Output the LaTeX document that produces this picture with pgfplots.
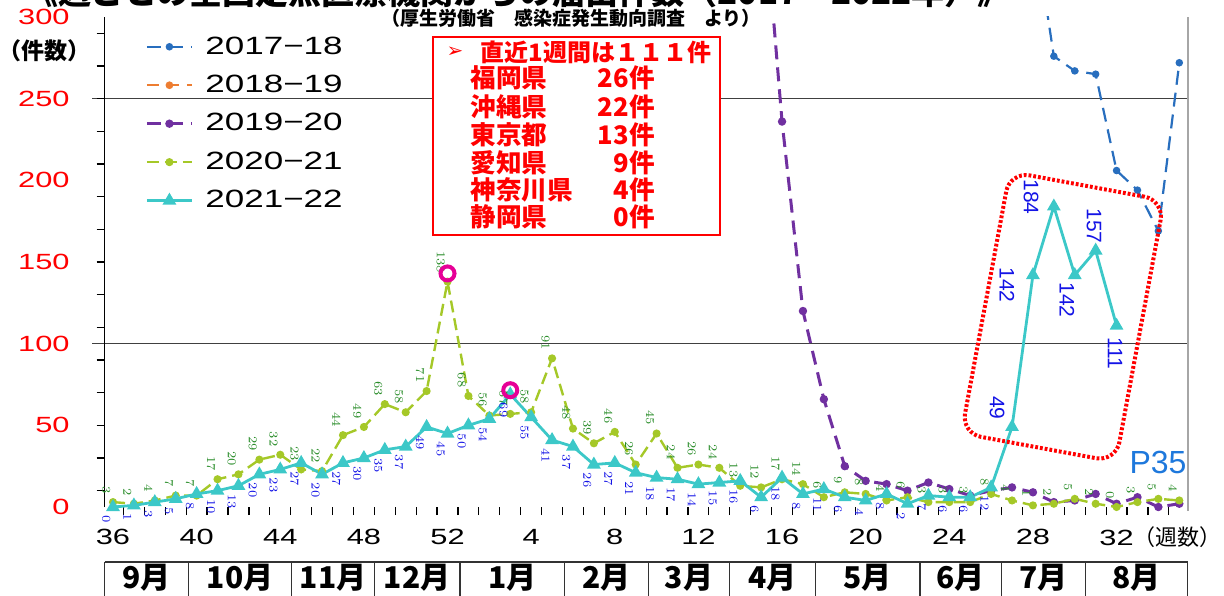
\documentclass[border=0pt]{standalone}
\usepackage{fontspec}
\usepackage{pgfplots}
\pgfplotsset{compat=1.18}
\usepackage{pgfplotstable}
\setmainfont{Liberation Sans}
\newfontfamily\numfont[FakeStretch=1.4]{Liberation Sans}
\newfontfamily\jp{Noto Sans CJK JP}
\newfontfamily\dejavu{DejaVu Sans}
\definecolor{cA}{RGB}{40,110,190}
\definecolor{cB}{RGB}{237,125,49}
\definecolor{cC}{RGB}{112,48,160}
\definecolor{cD}{RGB}{165,200,40}
\definecolor{cE}{RGB}{60,200,200}
\definecolor{labgreen}{RGB}{40,140,40}
\definecolor{labblue}{RGB}{20,20,230}
\definecolor{pinkc}{RGB}{230,0,150}
\definecolor{pblue}{RGB}{30,120,220}

% x = week index (0 = week 36, 16 = week 52, 17 = week 1, ... 51 = week 35)
\pgfplotstableread{
x y
44 360
45 276
46 267
47 265
48 206
49 194
50 169
51 272
}\tA
\pgfplotstableread{
x y
31 390
32 236
33 120
34 66
35 25
36 16
37 14
38 10
39 15
40 11
41 7
42 10
43 12
44 9
45 3
46 4
47 8
48 2
49 6
50 0
51 2
}\tC
\pgfplotstableread{
x y
0 3
1 2
2 4
3 7
4 7
5 17
6 20
7 29
8 32
9 23
10 22
11 44
12 49
13 63
14 58
15 71
16 138
17 68
18 56
19 57
20 58
21 91
22 48
23 39
24 46
25 26
26 45
27 24
28 26
29 24
30 13
31 12
32 17
33 14
34 6
35 9
36 8
37 4
38 6
39 3
40 3
41 3
42 8
43 4
44 1
45 2
46 5
47 2
48 0
49 3
50 5
51 4
}\tD
\pgfplotstableread{
x y
0 0
1 1
2 3
3 5
4 8
5 10
6 13
7 20
8 23
9 27
10 20
11 27
12 30
13 35
14 37
15 49
16 45
17 50
18 54
19 69
20 55
21 41
22 37
23 26
24 27
25 21
26 18
27 17
28 14
29 15
30 16
31 6
32 18
33 8
34 11
35 6
36 4
37 8
38 2
39 7
40 6
41 6
42 12
43 49
44 142
45 184
46 142
47 157
48 111
}\tE

\begin{document}
\begin{tikzpicture}
% horizontal reference lines
\draw[black!75, line width=0.6pt] (46pt,125.67pt) -- (594pt,125.67pt);
\draw[black!75, line width=0.6pt] (46pt,248.17pt) -- (594pt,248.17pt);
\begin{axis}[
  scale only axis, width=541.5pt, height=245pt,
  at={(52.32pt,44pt)}, anchor=south west,
  xmin=-0.4, xmax=51.4, ymin=0, ymax=300,
  axis x line=bottom, axis y line=left, axis line style={-},
  x axis line style={draw=none},
  y axis line style={black, line width=0.75pt},
  tick align=outside,
  major tick length=0pt, minor tick length=4pt,
  tick style={black, line width=0.6pt},
  xtick={0,4,...,48},
  xticklabels={36,40,44,48,52,4,8,12,16,20,24,28,{32\rlap{\jp\fontsize{11}{11}\selectfont （週数）}}},
  minor xtick={0.5,1.5,...,50.5},
  ytick={0,50,...,300},
  yticklabels={0,50,100,150,200,250,300},
  minor ytick={10,30,...,290},
  xticklabel style={font=\numfont\fontsize{11}{11}\selectfont, anchor=center, yshift=-15pt},
  yticklabel style={font=\numfont\fontsize{11}{11}\selectfont, text=red, anchor=east, xshift=-14pt},
  legend style={at={(0.0373,0.965)}, anchor=north west, draw=none, fill=none,
    font=\numfont\fontsize{12.5}{12.5}\selectfont, row sep=7pt, column sep=5pt,
    inner sep=0pt, nodes={inner sep=1pt}},
  legend cell align=left,
  legend image code/.code={\draw[mark repeat=2,mark phase=2,#1] plot coordinates {(0pt,0pt) (11.25pt,0pt) (22.5pt,0pt)};},
]
\addplot[cA, line width=1.1pt, dash pattern=on 7pt off 4pt, mark=*, mark size=1.3pt, mark options={solid}] table {\tA};
\addlegendentry{2017−18}
\addlegendimage{cB, line width=1pt, dash pattern=on 6pt off 4pt, mark=*, mark size=1.4pt, mark options={solid}}
\addlegendentry{2018−19}
\addplot[cC, line width=1.5pt, dash pattern=on 7pt off 4pt, mark=*, mark size=1.3pt, mark options={solid}] table {\tC};
\addlegendentry{2019−20}
\addplot[cD, line width=1.2pt, dash pattern=on 6pt off 3pt, mark=*, mark size=1.4pt, mark options={solid}] table {\tD};
\addlegendentry{2020−21}
\addplot[cE, line width=1.4pt, mark=triangle*, mark size=2.6pt] table {\tE};
\addlegendentry{2021−22}
% data labels
\addplot[draw=none, forget plot, nodes near coords, point meta=y,
  every node near coord/.append style={rotate=-90, anchor=north east, inner xsep=4pt, inner ysep=1.2pt,
    font=\fontsize{6.5}{6.5}\selectfont, text=labgreen}] table {\tD};
\addplot[draw=none, forget plot, restrict x to domain=0:42, nodes near coords, point meta=y,
  every node near coord/.append style={rotate=-90, anchor=north west, inner xsep=4pt, inner ysep=1.2pt,
    font=\fontsize{6.5}{6.5}\selectfont, text=labblue}] table {\tE};
% highlight circles
\addplot[forget plot, only marks, mark=o, mark size=3.5pt, line width=2pt, pinkc] coordinates {(16,143) (19,71.5)};
\end{axis}
% right border
\draw[black!35, line width=0.6pt] (594pt,42pt) -- (594pt,289pt);
% large labels for latest weeks
\begin{scope}[every node/.style={rotate=-90, text=labblue, font=\fontsize{10.5}{10.5}\selectfont, inner sep=0pt}]
\node at (498.5pt,93.5pt) {49};
\node at (503.5pt,155pt) {142};
\node at (515.5pt,199pt) {184};
\node at (533.5pt,147.5pt) {142};
\node at (547pt,184.5pt) {157};
\node at (557.5pt,121pt) {111};
\end{scope}
% red dotted highlight
\node[draw=red, line width=2pt, dash pattern=on 1.4pt off 1pt, rounded corners=10pt,
  minimum width=78.5pt, minimum height=133pt, rotate=-10.5] at (531.4pt,139.1pt) {};
\node[text=pblue, font=\fontsize{16}{16}\selectfont, inner sep=0pt] at (579pt,66.5pt) {P35};
% month table
\draw[black!80, line width=0.6pt] (52.32pt,16.5pt) -- (593.82pt,16.5pt);
\foreach \x in {52.32,94.13,145.88,187.17,230.03,282.30,324.12,364.88,407.74,460.01,500.78,542.60,593.82}
  \draw[black!80, line width=0.6pt] (\x pt,16.5pt) -- (\x pt,-2pt);
\foreach \x/\m in {73.2/9,120.0/10,166.5/11,208.6/12,256.2/1,303.2/2,344.5/3,386.3/4,433.9/5,480.4/6,521.7/7,568.2/8}
  \node[font=\jp\bfseries\fontsize{15}{15}\selectfont, inner sep=0pt] at (\x pt,8.5pt) {\m 月};
% y unit
\node[font=\jp\bfseries\fontsize{11.5}{11.5}\selectfont, inner sep=0pt] at (22pt,272pt) {（件数）};
% title and source
\node[anchor=base, font=\jp\bfseries\fontsize{16.5}{16.5}\selectfont, inner sep=0pt] at (259pt,295pt) {《週ごとの全国定点医療機関からの届出件数（2017 – 2022年）》};
\node[font=\jp\bfseries\fontsize{9.5}{9.5}\selectfont, inner sep=0pt] at (285.5pt,288.5pt) {（厚生労働省　感染症発生動向調査　より）};
% red information box
\draw[red, line width=0.8pt, fill=white] (216.5pt,180pt) rectangle (360pt,279pt);
\node[text=red, font=\dejavu\fontsize{10}{10}\selectfont, inner sep=0pt] at (227.5pt,271.5pt) {➢};
\node[anchor=west, text=red, font=\jp\bfseries\fontsize{12}{12}\selectfont, inner sep=0pt] at (240pt,271.5pt) {直近1週間は１１１件};
\begin{scope}[every node/.style={text=red, font=\jp\bfseries\fontsize{12.8}{12.8}\selectfont, inner sep=0pt}]
\node[anchor=west] at (235pt,258.5pt) {福岡県};
\node[anchor=west] at (235pt,244pt) {沖縄県};
\node[anchor=west] at (235pt,230pt) {東京都};
\node[anchor=west] at (235pt,216pt) {愛知県};
\node[anchor=west] at (235pt,202.5pt) {神奈川県};
\node[anchor=west] at (235pt,189pt) {静岡県};
\node[anchor=east] at (327.5pt,258.5pt) {26件};
\node[anchor=east] at (327.5pt,244pt) {22件};
\node[anchor=east] at (327.5pt,230pt) {13件};
\node[anchor=east] at (327.5pt,216pt) {9件};
\node[anchor=east] at (327.5pt,202.5pt) {4件};
\node[anchor=east] at (327.5pt,189pt) {0件};
\end{scope}
\pgfresetboundingbox
\useasboundingbox (0,0) rectangle (612pt,297.5pt);
\end{tikzpicture}
\end{document}
